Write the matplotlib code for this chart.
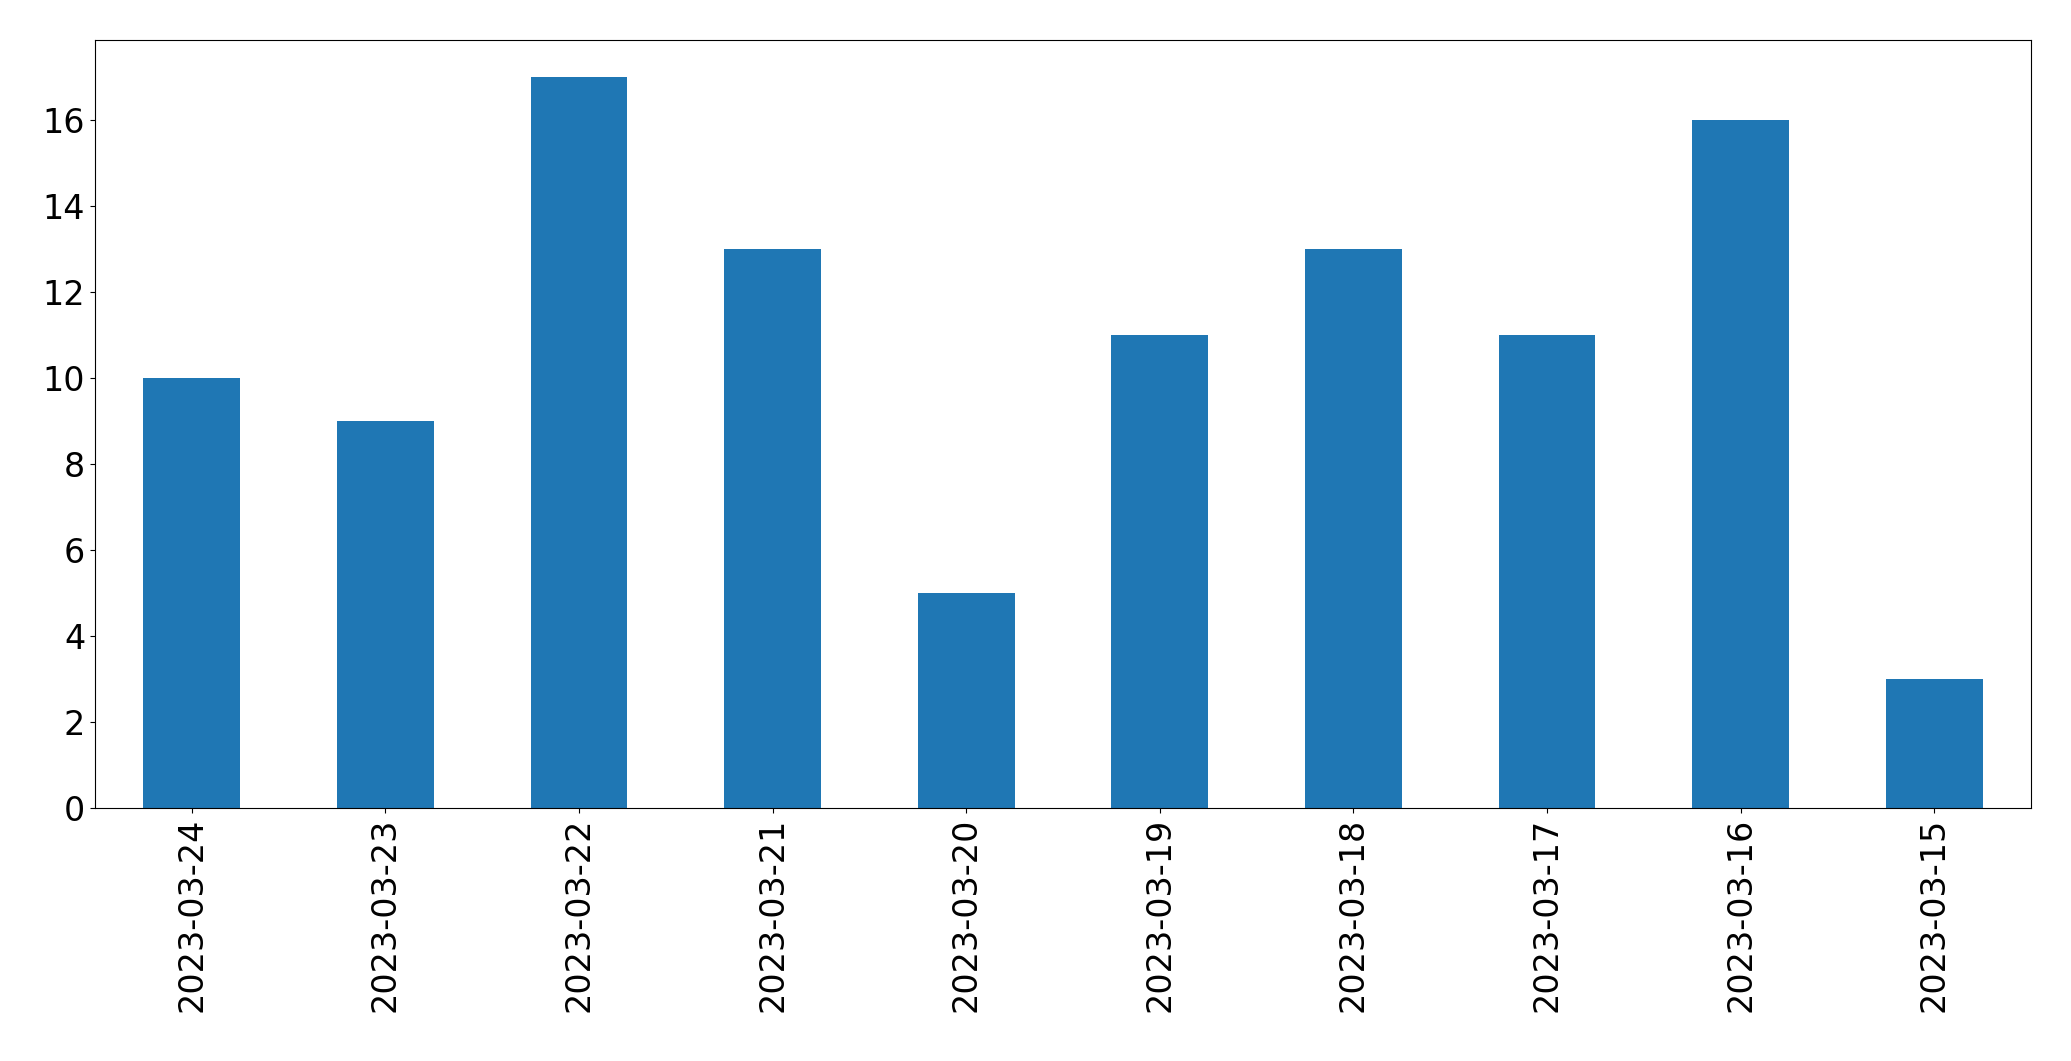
import pandas as pd
import matplotlib
matplotlib.use('Agg')
import matplotlib.pyplot as plt

dates = ['2023-03-24', '2023-03-23', '2023-03-22', '2023-03-21', '2023-03-20',
         '2023-03-19', '2023-03-18', '2023-03-17', '2023-03-16', '2023-03-15']
counts = [10, 9, 17, 13, 5, 11, 13, 11, 16, 3]

series = pd.Series(counts, index=dates)

fig, ax = plt.subplots(figsize=(20.71, 10.61), dpi=100)
series.plot(kind='bar', ax=ax, color='#1f77b4', fontsize=24)
plt.subplots_adjust(left=0.0459, right=0.9807, bottom=0.2385, top=0.9623)
plt.savefig('out.png', dpi=100)
